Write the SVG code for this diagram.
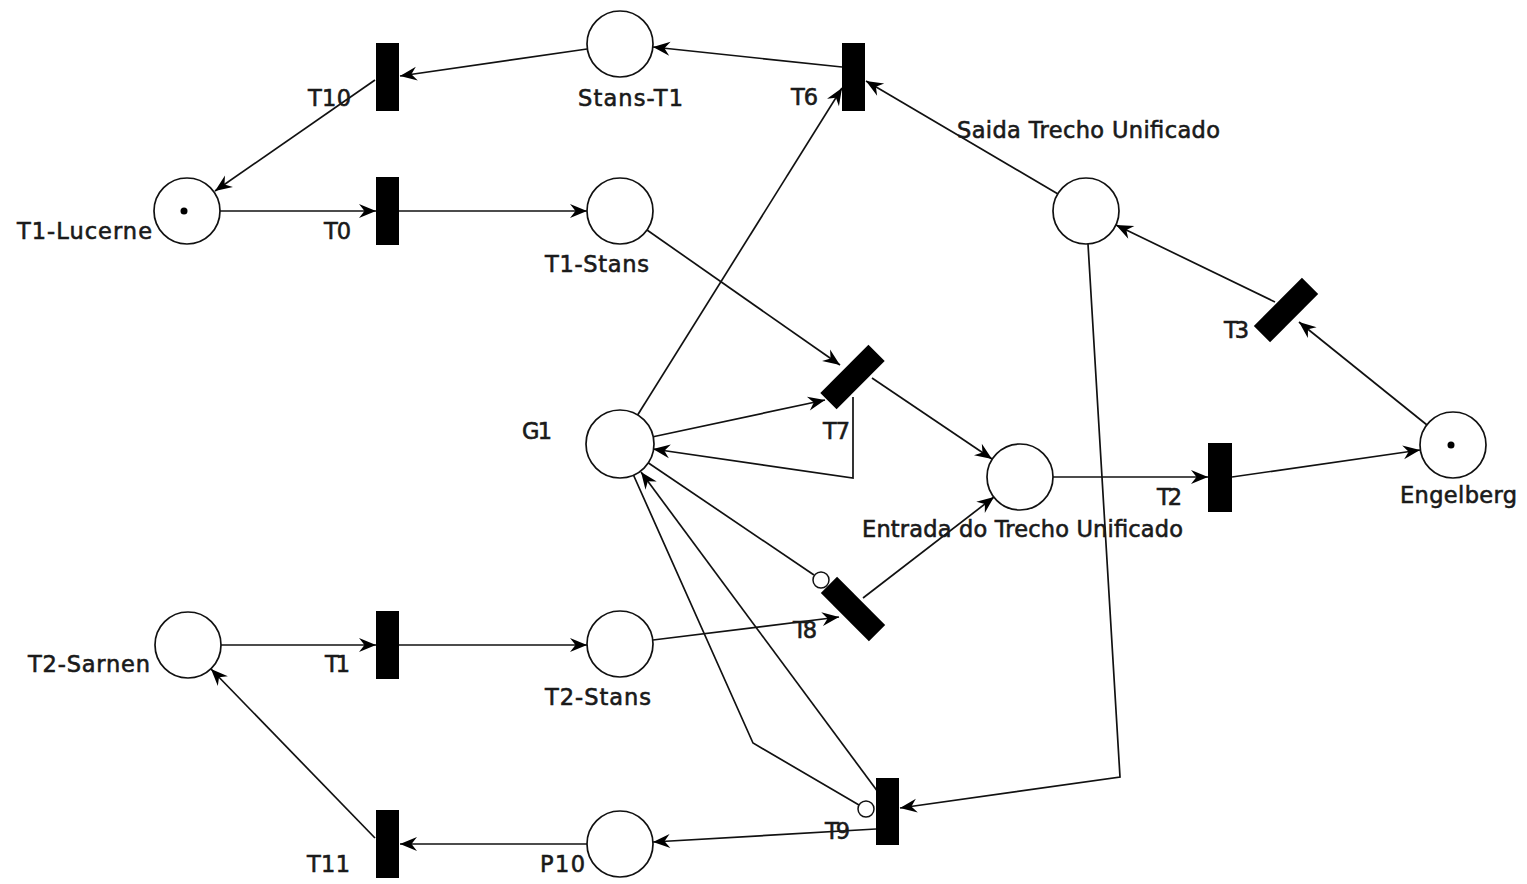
<svg xmlns="http://www.w3.org/2000/svg" width="1527" height="884" viewBox="0 0 1527 884">
<style>
.place{fill:#fff;stroke:#111;stroke-width:1.7}
.trans{fill:#000}
.tok{fill:#000}
.inh{fill:#fff;stroke:#111;stroke-width:1.5}
.arc{fill:none;stroke:#111;stroke-width:1.7}
.arr{marker-end:url(#ah)}
text{font-family:"DejaVu Sans","Liberation Sans",sans-serif;font-size:22.5px;fill:#1a1a1a;stroke:#1a1a1a;stroke-width:0.6}
</style>
<defs>
<marker id="ah" markerUnits="userSpaceOnUse" markerWidth="22" markerHeight="18" viewBox="-19 -9 20 18" refX="0" refY="0" orient="auto">
<path d="M0,0 L-17,-7 L-11.5,0 L-17,7 Z" fill="#000"/>
</marker>
</defs>
<rect width="1527" height="884" fill="#fff"/>
<g id="connectors">
<line class="arc arr" x1="587" y1="49" x2="400" y2="76"/>
<line class="arc arr" x1="375" y1="80" x2="215" y2="191"/>
<line class="arc arr" x1="220" y1="211" x2="376" y2="211"/>
<line class="arc arr" x1="399" y1="211" x2="587" y2="211"/>
<line class="arc arr" x1="842" y1="67" x2="653" y2="47"/>
<line class="arc arr" x1="637" y1="416" x2="842" y2="88"/>
<line class="arc arr" x1="1058" y1="194" x2="866" y2="81"/>
<line class="arc arr" x1="1427" y1="425" x2="1299" y2="322"/>
<line class="arc arr" x1="1275" y1="302" x2="1116" y2="225"/>
<line class="arc arr" x1="647" y1="230" x2="840" y2="365"/>
<line class="arc arr" x1="652" y1="437" x2="825" y2="400"/>
<polyline class="arc arr" points="853,397 853,478 653,449"/>
<line class="arc arr" x1="872" y1="378" x2="992" y2="459"/>
<line class="arc arr" x1="863" y1="598" x2="994" y2="497"/>
<line class="arc arr" x1="1053" y1="477" x2="1208" y2="477"/>
<line class="arc arr" x1="1232" y1="477" x2="1420" y2="450"/>
<line class="arc arr" x1="221" y1="645" x2="376" y2="645"/>
<line class="arc arr" x1="399" y1="645" x2="587" y2="645"/>
<line class="arc arr" x1="653" y1="640" x2="839" y2="617"/>
<line class="arc" x1="647" y1="462" x2="814" y2="575"/>
<line class="arc arr" x1="878" y1="792" x2="641" y2="472"/>
<polyline class="arc" points="633,474 753,743 859,805"/>
<polyline class="arc arr" points="1088,244 1120,777 900,808"/>
<line class="arc arr" x1="876" y1="829" x2="653" y2="842"/>
<line class="arc arr" x1="587" y1="844" x2="400" y2="844"/>
<line class="arc arr" x1="375" y1="838" x2="211" y2="669"/>
</g>
<g id="T1-Lucerne"><circle class="place" cx="187" cy="211" r="33"/><circle class="tok" cx="184" cy="211" r="3.5"/><text x="17" y="239" textLength="135">T1-Lucerne</text></g>
<g id="Stans-T1"><circle class="place" cx="620" cy="44" r="33"/><text x="578" y="106" textLength="105">Stans-T1</text></g>
<g id="T1-Stans"><circle class="place" cx="620" cy="211" r="33"/><text x="545" y="272" textLength="104">T1-Stans</text></g>
<g id="G1"><circle class="place" cx="620" cy="444" r="34"/><text x="522" y="439" textLength="30">G1</text></g>
<g id="T2-Stans"><circle class="place" cx="620" cy="644" r="33"/><text x="545" y="705" textLength="106">T2-Stans</text></g>
<g id="P10"><circle class="place" cx="620" cy="844" r="33"/><text x="540" y="872" textLength="45">P10</text></g>
<g id="T2-Sarnen"><circle class="place" cx="188" cy="645" r="33"/><text x="28" y="672" textLength="122">T2-Sarnen</text></g>
<g id="Saida"><circle class="place" cx="1086" cy="211" r="33"/><text x="957" y="138" textLength="263">Saida Trecho Unificado</text></g>
<g id="Entrada"><circle class="place" cx="1020" cy="477" r="33"/><text x="862" y="537" textLength="321">Entrada do Trecho Unificado</text></g>
<g id="Engelberg"><circle class="place" cx="1453" cy="445" r="33"/><circle class="tok" cx="1451" cy="445" r="3.5"/><text x="1400" y="503" textLength="117">Engelberg</text></g>
<g id="T10"><rect class="trans" x="376" y="43" width="23" height="68"/><text x="308" y="106" textLength="43">T10</text></g>
<g id="T0"><rect class="trans" x="376" y="177" width="23" height="68"/><text x="324" y="239" textLength="27">T0</text></g>
<g id="T6"><rect class="trans" x="842" y="43" width="23" height="68"/><text x="791" y="105" textLength="27">T6</text></g>
<g id="T1"><rect class="trans" x="376" y="611" width="23" height="68"/><text x="325" y="672" textLength="25">T1</text></g>
<g id="T11"><rect class="trans" x="376" y="810" width="23" height="68"/><text x="307" y="872" textLength="43">T11</text></g>
<g id="T9"><rect class="trans" x="876" y="778" width="23" height="67"/><circle class="inh" cx="866" cy="809" r="8"/><text x="825" y="839" textLength="25">T9</text></g>
<g id="T2"><rect class="trans" x="1208" y="443" width="24" height="69"/><text x="1157" y="505" textLength="25">T2</text></g>
<g id="T7"><rect class="trans" x="-11.5" y="-34" width="23" height="68" transform="translate(852.5 377) rotate(45)"/><text x="823" y="439" textLength="27">T7</text></g>
<g id="T8"><rect class="trans" x="-11.5" y="-34" width="23" height="68" transform="translate(853 609) rotate(-45)"/><circle class="inh" cx="821" cy="580" r="8"/><text x="793" y="638" textLength="24">T8</text></g>
<g id="T3"><rect class="trans" x="-11.5" y="-34" width="23" height="68" transform="translate(1286 310) rotate(45)"/><text x="1224" y="338" textLength="25">T3</text></g>
</svg>
